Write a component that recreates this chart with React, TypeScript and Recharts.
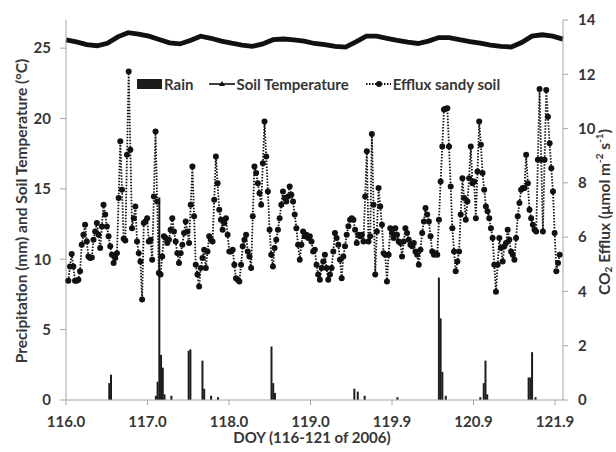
import React from 'react';
import { ComposedChart, Line, Bar, XAxis, YAxis, Legend } from 'recharts';

// ---- data ----
// CO2 efflux of the sandy soil (µmol m-2 s-1), roughly half-hourly from DOY 116.03 to 121.96
const EFFLUX_SANDY_SOIL: number[] = [
  4.39, 4.92, 5.38, 4.92, 4.39, 4.39, 4.43, 4.74, 5.72, 6.09, 6.46, 5.84, 5.29, 5.23, 5.25, 5.9, 6.21, 6.52, 6.09, 5.6,
  6.39, 7.19, 6.83, 6.39, 6.03, 5.66, 5.35, 5.05, 5.23, 5.41, 7.44, 9.53, 7.75, 5.94, 5.88, 9.04, 12.1, 9.22, 6.33, 6.7,
  7.13, 5.84, 5.41, 5.1, 3.7, 6.52, 6.58, 6.7, 5.84, 5.9, 5.17, 7.5, 9.89, 7.31, 4.68, 4.62, 5.29, 6.03, 5.97, 5.78,
  5.9, 6.27, 6.7, 6.21, 5.84, 5.41, 5.05, 5.41, 5.72, 6.15,
  6.58, 6.21, 5.78, 7.19, 8.6, 6.77, 4.98, 4.62, 4.18, 4.86, 5.23, 5.54, 4.86, 5.47, 6.03, 5.9, 5.84, 7.38, 8.97, 7.99,
  7.01, 6.64, 6.27, 6.52, 6.7, 6.09, 5.47, 5.47, 5.54, 4.98, 4.49, 4.43, 4.37, 4.98, 5.66, 5.9, 6.09, 5.47, 5.29, 4.86,
  6.77, 8.6, 8.36, 7.99, 7.62, 7.19, 8.72, 10.26, 8.97, 7.68, 6.27, 5.35, 4.92, 5.6, 5.9, 6.27, 6.7, 7.19, 7.68, 7.44,
  7.31, 7.5, 7.87, 7.56, 7.31, 6.83, 6.33, 5.72, 5.17, 5.72, 6.21, 6.03, 6.09, 5.97, 6.03, 5.84, 5.47,
  5.54, 4.98, 4.62, 4.43, 4.86, 5.1, 5.35, 4.86, 4.43, 4.62, 4.86, 5.47, 6.15, 5.97, 5.72, 5.17, 4.49, 5.29, 5.66, 6.09,
  6.4, 6.64, 6.7, 6.64, 6.27, 5.78, 6.09, 6.03, 6.09, 5.84, 7.5, 9.16, 5.84, 6.03, 9.8, 7.19, 4.62, 6.21, 7.81, 7.13,
  6.46, 5.41, 5.35, 4.37, 5.35, 6.33, 6.15, 5.97, 6.33, 6.09, 5.84, 5.78, 5.29, 5.84, 6.33, 6.15, 5.9, 5.72, 5.66, 5.78,
  5.47, 5.35, 4.98, 5.54, 6.15, 6.58, 7.07, 6.83, 6.58, 6.03, 5.47, 5.35, 5.41,
  5.35, 6.64, 8.05, 9.34, 10.7, 10.73, 10.75, 9.34, 7.87, 6.33, 5.47, 4.74, 5.1, 5.47, 6.83, 8.17, 7.44, 6.64, 7.31, 8.17,
  9.34, 7.99, 8.05, 6.7, 8.42, 10.26, 9.4, 8.36, 7.75, 7.13, 6.95, 6.7, 6.33, 5.97, 4.98, 3.99, 4.98, 5.97, 5.6, 5.1,
  5.66, 5.78, 6.27, 5.9, 5.47, 5.35, 5.17, 5.97, 6.77, 7.26, 7.75, 7.81, 7.81, 9.04, 7.99, 7.01, 6.7, 6.46, 6.27, 6.21,
  8.85, 11.46, 8.85, 6.21, 8.85, 11.42, 10.44, 9.46, 8.54, 7.68, 6.15, 4.74, 5.05, 5.35,
];
const EFFLUX_FIRST_DOY = 116.028;
const EFFLUX_LAST_DOY = 121.96;

// Soil temperature (°C), every 3 h from DOY 116.0 to 122.0
const SOIL_TEMPERATURE: number[] = [
  25.59, 25.45, 25.25, 25.17, 25.35, 25.8, 26.1, 26.0, 25.85, 25.62, 25.38, 25.3, 25.55, 25.85, 25.7, 25.5, 25.35,
  25.22, 25.13, 25.3, 25.6, 25.65, 25.58, 25.5, 25.33, 25.25, 25.12, 25.07, 25.45, 25.85, 25.85, 25.7, 25.55, 25.42,
  25.33, 25.5, 25.75, 25.75, 25.6, 25.47, 25.35, 25.22, 25.12, 25.08, 25.4, 25.85, 25.95, 25.85, 25.64,
];
const TEMP_FIRST_DOY = 116.0;
const TEMP_STEP_DAYS = 3 / 24;

// Rain (mm) per half-hour slot (slot n = DOY 116 + n/48)
const RAIN_SLOT: number[] = [25, 26, 52, 53, 54, 55, 56, 57, 61, 71, 72, 79, 80, 84, 88, 119, 120, 121, 167, 169, 173, 192, 216, 217, 218, 220, 240, 242, 243, 244, 268, 269, 270, 272];
const RAIN_MM: number[] = [1.2, 1.8, 0.3, 1.3, 14.4, 3.2, 2.3, 0.4, 0.3, 3.5, 3.6, 2.8, 0.8, 0.3, 0.2, 3.8, 1.2, 0.5, 0.8, 0.6, 0.3, 0.2, 8.7, 5.8, 2.0, 0.3, 0.2, 1.2, 2.8, 0.4, 1.6, 1.6, 3.4, 0.2];

const X_TICKS: number[] = [116.0, 116.984, 117.968, 118.952, 119.936, 120.92, 121.904];
const X_TICK_LABELS: string[] = ['116.0', '117.0', '118.0', '119.0', '119.9', '120.9', '121.9'];
const LEFT_TICKS: number[] = [0, 5, 10, 15, 20, 25];
const RIGHT_TICKS: number[] = [0, 2, 4, 6, 8, 10, 12, 14];

// ---- tables built from the arrays ----
const effluxStep = (EFFLUX_LAST_DOY - EFFLUX_FIRST_DOY) / (EFFLUX_SANDY_SOIL.length - 1);
const lineRows: { doy: number; efflux?: number; temp?: number }[] = [
  ...EFFLUX_SANDY_SOIL.map((v, i) => ({ doy: EFFLUX_FIRST_DOY + i * effluxStep, efflux: v })),
  ...SOIL_TEMPERATURE.map((v, k) => ({ doy: TEMP_FIRST_DOY + k * TEMP_STEP_DAYS, temp: v })),
].sort((a, b) => a.doy - b.doy);

const rainRows = RAIN_SLOT.map((n, i) => ({ doy: 116 + n / 48, rain: RAIN_MM[i] }));

const W = 616;
const H = 452;
const FONT = "Lato, 'Liberation Sans', Arial, sans-serif";
const TEXT = '#363636';
const AXIS = '#a6a6a6';
const tickStyle = { fill: TEXT, fontSize: 15, fontWeight: 700, fontFamily: FONT };

const LegendContent = () => (
  <div style={{ display: 'flex', alignItems: 'center', fontFamily: FONT, fontWeight: 700, fontSize: 15, color: TEXT, whiteSpace: 'nowrap' }}>
    <svg width={25} height={12} style={{ marginRight: 2 }}>
      <rect x={0} y={1} width={25} height={10} fill="#1c1c1c" />
    </svg>
    <span style={{ marginRight: 16 }}>Rain</span>
    <svg width={26} height={12} style={{ marginRight: 1 }}>
      <line x1={0} y1={6} x2={26} y2={6} stroke="#111" strokeWidth={1.6} />
      <polygon points="13,3 16,8 10,8" fill="#111" />
    </svg>
    <span style={{ marginRight: 17 }}>Soil Temperature</span>
    <svg width={25} height={12} style={{ marginRight: 2 }}>
      <line x1={0} y1={6} x2={25} y2={6} stroke="#111" strokeWidth={1.8} strokeDasharray="1.5 1.5" />
      <circle cx={13} cy={6} r={3} fill="#111" />
    </svg>
    <span>Efflux sandy soil</span>
  </div>
);

export default function App() {
  return (
    <div style={{ position: 'absolute', left: 0, top: 0, width: W, height: H, background: '#fff', overflow: 'hidden' }}>
      <div style={{ position: 'absolute', left: 0, top: 0 }}>
        <ComposedChart width={W} height={H} data={rainRows} margin={{ top: 20, right: 53, bottom: 52, left: 66 }} barCategoryGap={0}>
          <XAxis dataKey="doy" type="number" domain={[116, 122]} hide />
          <YAxis domain={[0, 27]} hide />
          <Bar dataKey="rain" fill="#1c1c1c" isAnimationActive={false} />
        </ComposedChart>
      </div>
      <div style={{ position: 'absolute', left: 0, top: 0 }}>
        <ComposedChart width={W} height={H} data={lineRows} margin={{ top: 20, right: 0, bottom: 0, left: 0 }}>
          <XAxis
            dataKey="doy"
            type="number"
            domain={[116, 122]}
            ticks={X_TICKS}
            tickFormatter={(v: number) => X_TICK_LABELS[X_TICKS.indexOf(v)] ?? v.toFixed(1)}
            height={52}
            tick={tickStyle}
            tickSize={5}
            tickMargin={11}
            stroke={AXIS}
            interval={0}
          />
          <YAxis
            yAxisId="left"
            domain={[0, 27]}
            ticks={LEFT_TICKS}
            width={66}
            tick={tickStyle}
            tickSize={6}
            tickMargin={9}
            stroke={AXIS}
            interval={0}
          />
          <YAxis
            yAxisId="right"
            orientation="right"
            domain={[0, 14]}
            ticks={RIGHT_TICKS}
            width={53}
            tick={tickStyle}
            tickSize={5}
            tickMargin={10}
            stroke={AXIS}
            interval={0}
          />
          <Legend
            layout="horizontal"
            verticalAlign="middle"
            align="center"
            content={<LegendContent />}
            wrapperStyle={{ position: 'absolute', left: 137, top: 75, width: 420, height: 16 }}
          />
          <Line
            yAxisId="left"
            dataKey="temp"
            connectNulls
            stroke="#111"
            strokeWidth={4.8}
            dot={false}
            isAnimationActive={false}
            legendType="none"
          />
          <Line
            yAxisId="right"
            dataKey="efflux"
            connectNulls
            stroke="#111"
            strokeWidth={1.8}
            strokeDasharray="1.5 1.5"
            dot={{ r: 3, fill: '#111', stroke: 'none' }}
            activeDot={false}
            isAnimationActive={false}
          />
        </ComposedChart>
      </div>
      <svg width={W} height={H} style={{ position: 'absolute', left: 0, top: 0, pointerEvents: 'none' }}>
        <text
          x={21}
          y={211}
          transform="rotate(-90 21 211)"
          textAnchor="middle"
          dominantBaseline="central"
          fontFamily={FONT}
          fontWeight={700}
          fontSize={15.5}
          fill={TEXT}
        >
          Precipitation (mm) and Soil Temperature (°C)
        </text>
        <text
          x={604}
          y={212}
          transform="rotate(-90 604 212)"
          textAnchor="middle"
          dominantBaseline="central"
          fontFamily={FONT}
          fontWeight={700}
          fontSize={15.5}
          fill={TEXT}
        >
          CO<tspan fontSize={10} dy={4}>2</tspan>
          <tspan dy={-4}> Efflux (μmol m</tspan>
          <tspan fontSize={10} dy={-5}>-2</tspan>
          <tspan dy={5}> s</tspan>
          <tspan fontSize={10} dy={-5}>-1</tspan>
          <tspan dy={5}>)</tspan>
        </text>
        <text x={312} y={443} textAnchor="middle" fontFamily={FONT} fontWeight={700} fontSize={15} fill={TEXT}>
          DOY (116-121 of 2006)
        </text>
      </svg>
    </div>
  );
}
